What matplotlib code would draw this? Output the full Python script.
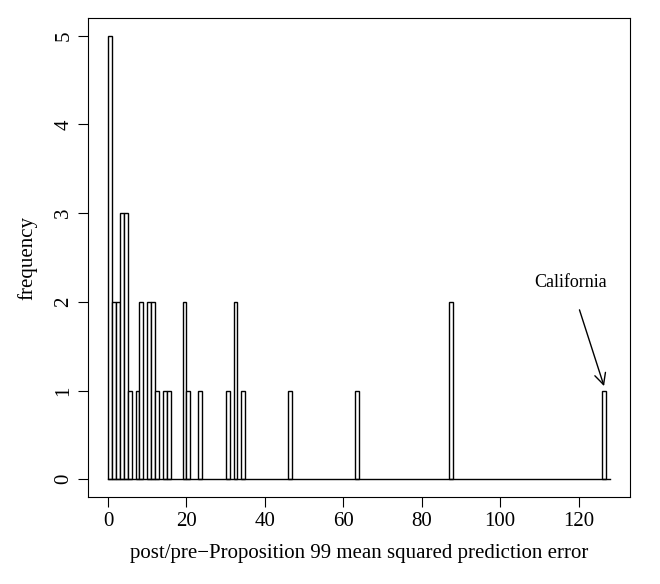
import matplotlib
matplotlib.use("Agg")
import matplotlib.pyplot as plt
import numpy as np

plt.rcParams['font.family'] = ['Liberation Serif']

bin_left = [0, 1, 2, 3, 4, 5, 7, 8, 10, 11, 12, 14, 15, 19, 20, 23, 30, 32, 34, 46, 63, 87, 126]
counts   = [5, 2, 2, 3, 3, 1, 1, 2, 2, 2, 1, 1, 1, 2, 1, 1, 1, 2, 1, 1, 1, 2, 1]
bin_width = 1
x_max = 128

fig = plt.figure(figsize=(6.6, 5.84), dpi=100)
ax = fig.add_axes([88/660, 1-497/584, (630-88)/660, (497-18)/584])
ax.bar(bin_left, counts, width=bin_width, align='edge', color='white', edgecolor='black', linewidth=1)
ax.plot([0, x_max], [0, 0], color='black', linewidth=1)
ax.set_xlim(-0.04*x_max, x_max*1.04)
ax.set_ylim(-0.2, 5.2)
ax.set_xticks(np.arange(0, 121, 20))
ax.set_yticks(range(6))
ax.tick_params(axis='both', labelsize=15, length=7, direction='out')
for lab in ax.get_yticklabels():
    lab.set_rotation(90)
    lab.set_va('center')
ax.set_xlabel('post/pre\u2212Proposition 99 mean squared prediction error', fontsize=15, labelpad=10)
ax.set_ylabel('frequency', fontsize=15, labelpad=12)
ax.annotate('California', xy=(126.5, 1.05), xytext=(118, 2.12), fontsize=13,
            ha='center', va='bottom',
            arrowprops=dict(arrowstyle='->', color='black', lw=1, mutation_scale=20,
                            shrinkA=12, shrinkB=0))
fig.savefig('out.png', dpi=100)
